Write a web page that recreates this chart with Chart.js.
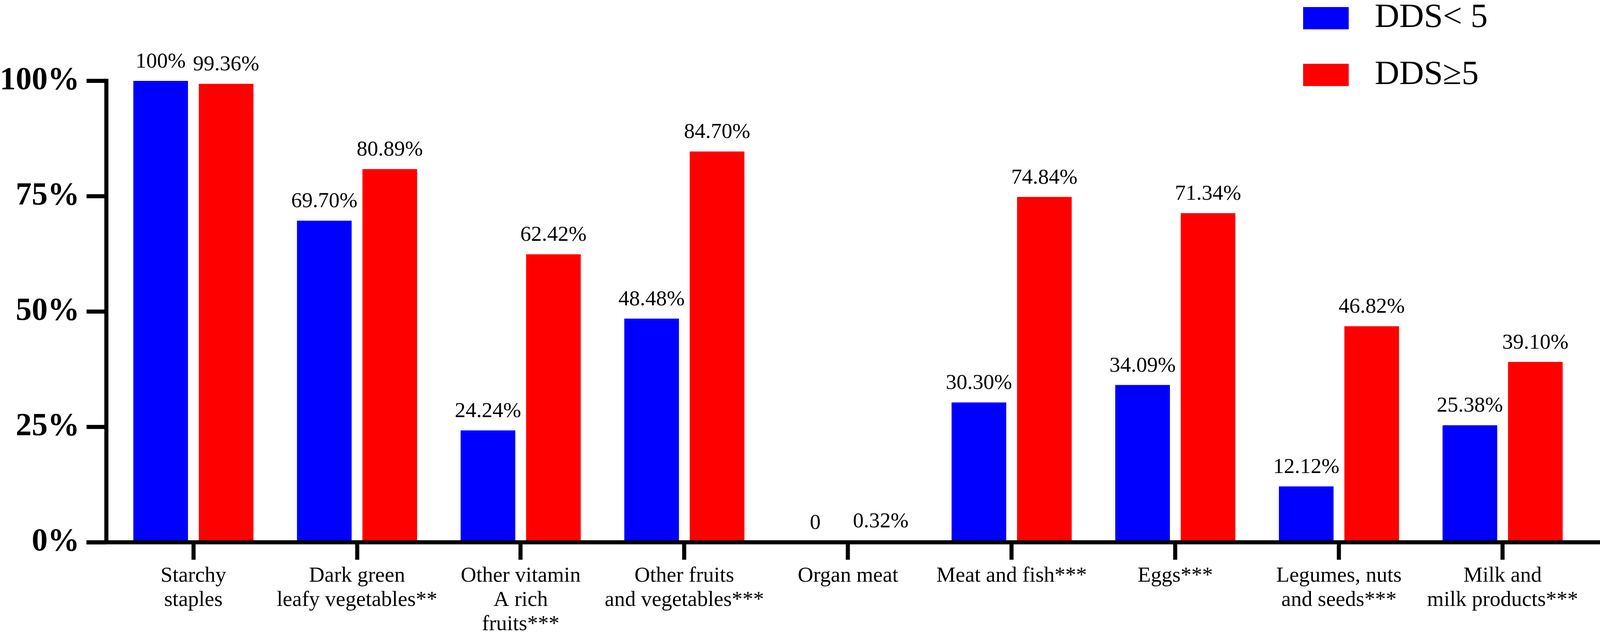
<!DOCTYPE html>
<html>
<head>
<meta charset="utf-8">
<script src="https://cdn.jsdelivr.net/npm/chart.js@4.4.1/dist/chart.umd.min.js"></script>
<style>
  html, body { margin: 0; padding: 0; background: #fff; overflow: hidden; }
  #wrap { width: 100vw; height: 100vh; position: relative; }
</style>
</head>
<body>
<div id="wrap"><canvas id="grafico"></canvas></div>
<script>
// food groups (x axis)
const categorias = [
  ['Starchy', 'staples'],
  ['Dark green', 'leafy vegetables**'],
  ['Other vitamin', 'A rich', 'fruits***'],
  ['Other fruits', 'and vegetables***'],
  'Organ meat',
  'Meat and fish***',
  'Eggs***',
  ['Legumes, nuts', 'and seeds***'],
  ['Milk and', 'milk products***']
];

// percentages
const ddsMenor5 = [100, 69.70, 24.24, 48.48, 0, 30.30, 34.09, 12.12, 25.38];
const ddsMaior5 = [99.36, 80.89, 62.42, 84.70, 0.32, 74.84, 71.34, 46.82, 39.10];

const rotulosSerie = ['DDS< 5', 'DDS≥5'];
const ticksY = [0, 25, 50, 75, 100];

const FONTE = '"Times New Roman", "Liberation Serif", serif';

// the layout was measured on a 4317 px wide picture; scale to the real viewport
const k = window.innerWidth / 4317;
const px = v => v * k;

// the y axis line sits a little left of the first category
const RECUO_EIXO = 14;
const ESPESSURA = 11;
const TICK = 48;

function formataValor(v) {
  if (v === 0) return '0';
  if (v === 100) return '100%';
  return v.toFixed(2) + '%';
}

// eixo y (linha + tracos) desenhado a mao, um pouco antes da area do grafico
const eixos = {
  id: 'eixos',
  beforeDatasetsDraw(chart) {
    const ctx = chart.ctx;
    const a = chart.chartArea;
    const esc = chart.scales.y;
    const xEixo = a.left - px(RECUO_EIXO);
    const meia = px(ESPESSURA) / 2;
    ctx.save();
    ctx.fillStyle = '#000';
    ctx.fillRect(xEixo - meia, a.top - meia, px(ESPESSURA), a.bottom - a.top + meia);
    esc.ticks.forEach(t => {
      const y = esc.getPixelForValue(t.value);
      ctx.fillRect(xEixo - meia - px(TICK), y - meia, px(TICK) + meia, px(ESPESSURA));
    });
    ctx.restore();
  }
};

// valores em cima das barras + eixo x grosso por cima das barras
const rotulosBarras = {
  id: 'rotulosBarras',
  afterDatasetsDraw(chart) {
    const ctx = chart.ctx;
    const a = chart.chartArea;
    ctx.save();
    ctx.font = px(58) + 'px ' + FONTE;
    ctx.fillStyle = '#000';
    ctx.textAlign = 'center';
    ctx.textBaseline = 'alphabetic';
    chart.data.datasets.forEach((ds, i) => {
      chart.getDatasetMeta(i).data.forEach((barra, j) => {
        ctx.fillText(formataValor(ds.data[j]), barra.x, barra.y - px(36));
      });
    });
    const xIni = a.left - px(RECUO_EIXO) - px(ESPESSURA) / 2 - px(TICK);
    ctx.fillRect(xIni, a.bottom - px(ESPESSURA) / 2, chart.width - xIni, px(ESPESSURA));
    ctx.restore();
  }
};

// legenda no canto superior direito
const legendaManual = {
  id: 'legendaManual',
  afterDraw(chart) {
    const ctx = chart.ctx;
    const x0 = chart.width - px(801);
    const linhas = [px(19), px(172)];
    ctx.save();
    ctx.font = px(92) + 'px ' + FONTE;
    ctx.textBaseline = 'middle';
    ctx.textAlign = 'left';
    chart.data.datasets.forEach((ds, i) => {
      const y = linhas[i];
      ctx.fillStyle = ds.backgroundColor;
      ctx.fillRect(x0, y, px(123), px(60));
      ctx.fillStyle = '#000';
      ctx.fillText(ds.label, x0 + px(193), y + px(30));
    });
    ctx.restore();
  }
};

new Chart(document.getElementById('grafico'), {
  type: 'bar',
  data: {
    labels: categorias,
    datasets: [
      { label: rotulosSerie[0], data: ddsMenor5, backgroundColor: '#0000ff' },
      { label: rotulosSerie[1], data: ddsMaior5, backgroundColor: '#ff0000' }
    ]
  },
  options: {
    animation: false,
    responsive: true,
    maintainAspectRatio: false,
    categoryPercentage: 0.8,
    barPercentage: 0.835,
    layout: { padding: { left: 0, right: px(42), top: px(218), bottom: 0 } },
    plugins: {
      legend: { display: false },
      tooltip: { enabled: false },
      title: { display: false }
    },
    scales: {
      x: {
        offset: true,
        grid: {
          offset: false,
          drawOnChartArea: false,
          drawTicks: true,
          tickLength: px(47),
          tickWidth: px(ESPESSURA),
          tickColor: '#000'
        },
        border: { display: false },
        ticks: {
          color: '#000',
          maxRotation: 0,
          autoSkip: false,
          padding: px(12),
          font: { family: FONTE, size: px(58), lineHeight: 1.12 }
        },
        afterFit(escala) { escala.height = px(258); }
      },
      y: {
        min: 0,
        max: 100,
        afterBuildTicks(escala) { escala.ticks = ticksY.map(v => ({ value: v })); },
        grid: {
          drawOnChartArea: false,
          drawTicks: true,
          // invisible: only reserves room, the real ticks come from the plugin
          tickLength: px(TICK + RECUO_EIXO + ESPESSURA / 2),
          tickColor: 'rgba(0,0,0,0)'
        },
        border: { display: false },
        ticks: {
          color: '#000',
          padding: px(19),
          font: { family: FONTE, size: px(86), weight: 'bold' },
          callback: v => v + '%'
        },
        afterFit(escala) { escala.width = px(301); }
      }
    }
  },
  plugins: [eixos, rotulosBarras, legendaManual]
});
</script>
</body>
</html>
